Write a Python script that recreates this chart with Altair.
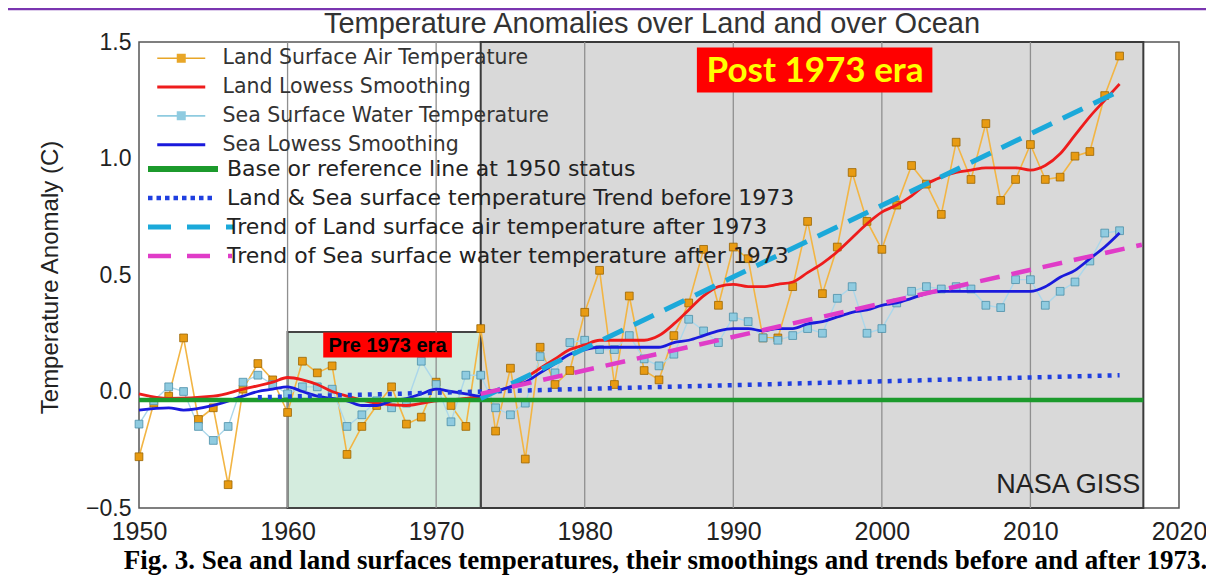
import altair as alt
import pandas as pd

# ---------------- data ----------------
years = list(range(1950, 2017))
land_temp = [-0.28, -0.05, -0.02, 0.23, -0.12, -0.07, -0.40, 0.01, 0.12, 0.05,
             -0.09, 0.13, 0.08, 0.11, -0.27, -0.15, -0.06, 0.02, -0.14, -0.11,
             0.04, -0.06, -0.15, 0.27, -0.17, 0.10, -0.29, 0.19, 0.03, 0.09,
             0.34, 0.52, 0.03, 0.41, 0.09, 0.05, 0.24, 0.38, 0.61, 0.37,
             0.62, 0.57, 0.23, 0.23, 0.45, 0.73, 0.42, 0.62, 0.94, 0.73,
             0.61, 0.80, 0.97, 0.89, 0.76, 1.07, 0.91, 1.15, 0.82, 0.91,
             1.06, 0.91, 0.92, 1.01, 1.03, 1.27, 1.44]
sea_temp = [-0.14, -0.04, 0.02, 0.00, -0.15, -0.21, -0.15, 0.04, 0.07, 0.03,
            -0.01, 0.02, 0.02, 0.01, -0.15, -0.10, -0.04, -0.07, -0.05, 0.13,
            0.03, -0.13, 0.07, 0.07, -0.07, -0.10, -0.05, 0.15, 0.08, 0.21,
            0.22, 0.18, 0.18, 0.24, 0.14, 0.11, 0.16, 0.31, 0.26, 0.21,
            0.32, 0.30, 0.23, 0.22, 0.24, 0.27, 0.25, 0.40, 0.45, 0.25,
            0.27, 0.38, 0.43, 0.45, 0.44, 0.45, 0.44, 0.37, 0.36, 0.48,
            0.48, 0.37, 0.43, 0.47, 0.56, 0.68, 0.69]

land_lowess_years = [1950, 1952, 1955, 1957, 1959, 1960, 1961, 1962, 1963, 1964,
                     1966, 1968, 1970, 1972, 1973, 1974, 1975, 1977, 1978, 1979,
                     1980, 1981, 1982, 1984, 1985, 1986, 1987, 1988, 1989, 1990,
                     1991, 1992, 1993, 1994, 1995, 1996, 1997, 1998, 1999, 2000,
                     2001, 2002, 2003, 2004, 2005, 2006, 2007, 2008, 2009, 2010,
                     2011, 2012, 2013, 2014, 2015, 2016]
land_lowess = [-0.01, -0.03, -0.02, 0.01, 0.04, 0.06, 0.05, 0.03, 0.00, -0.02,
               -0.05, -0.06, -0.04, -0.03, -0.02, 0.00, 0.02, 0.10, 0.14, 0.18,
               0.20, 0.22, 0.22, 0.22, 0.24, 0.29, 0.35, 0.41, 0.45, 0.46,
               0.45, 0.45, 0.46, 0.47, 0.51, 0.55, 0.60, 0.66, 0.72, 0.77,
               0.80, 0.84, 0.89, 0.92, 0.94, 0.95, 0.96, 0.96, 0.96, 0.95,
               0.97, 1.02, 1.10, 1.18, 1.25, 1.32]

sea_lowess_years = [1950, 1952, 1953, 1955, 1957, 1958, 1959, 1960, 1961, 1962,
                    1963, 1964, 1965, 1966, 1967, 1968, 1969, 1970, 1971, 1972,
                    1973, 1974, 1975, 1976, 1977, 1978, 1979, 1980, 1981, 1985,
                    1986, 1987, 1988, 1989, 1990, 1991, 1992, 1993, 1994, 1995,
                    1996, 1997, 1998, 1999, 2000, 2001, 2002, 2003, 2004, 2010,
                    2011, 2012, 2013, 2014, 2015, 2016]
sea_lowess = [-0.08, -0.07, -0.08, -0.06, -0.02, 0.00, 0.01, 0.02, 0.00, -0.02,
              -0.03, -0.04, -0.06, -0.06, -0.04, -0.03, -0.01, 0.01, 0.00, -0.01,
              -0.02, 0.00, 0.02, 0.04, 0.08, 0.12, 0.16, 0.18, 0.19, 0.19,
              0.21, 0.22, 0.24, 0.26, 0.27, 0.27, 0.26, 0.27, 0.27, 0.29,
              0.30, 0.32, 0.34, 0.35, 0.37, 0.38, 0.40, 0.42, 0.43, 0.43,
              0.45, 0.49, 0.52, 0.57, 0.62, 0.68]

base_years = [1950, 2017.6]
base_vals = [-0.037, -0.037]
pre_trend_years = [1958, 2016]
pre_trend_vals = [-0.025, 0.07]
land_trend_years = [1973, 2016]
land_trend_vals = [-0.03, 1.29]
sea_trend_years = [1973, 2017.5]
sea_trend_vals = [-0.01, 0.63]

decades = [1960, 1970, 1980, 1990, 2000, 2010]
x_ticks = [1950, 1960, 1970, 1980, 1990, 2000, 2010, 2020]
y_ticks = [-0.5, 0.0, 0.5, 1.0, 1.5]

# era shading (years / anomaly values)
post_era = dict(x=1973, x2=2017.6, y=-0.5, y2=1.5)
pre_era = dict(x=1960, x2=1973, y=-0.5, y2=0.255)

legend1_labels = ["Land Surface Air Temperature", "Land Lowess Smoothing",
                  "Sea Surface Water Temperature", "Sea Lowess Smoothing"]
legend2_labels = ["Base or reference line at 1950 status",
                  "Land & Sea surface temperature Trend before 1973",
                  "Trend of Land surface air temperature after 1973",
                  "Trend of Sea surface water temperature after 1973"]

title_text = "Temperature Anomalies over Land and over Ocean"
caption = ("Fig. 3. Sea and land surfaces temperatures, their smoothings and "
           "trends before and after 1973.")
y_title = "Temperature Anomaly (C)"

# ---------------- tables ----------------
frame_df = pd.DataFrame({"t": [title_text]})
land_df = pd.DataFrame({"year": years, "value": land_temp})
sea_df = pd.DataFrame({"year": years, "value": sea_temp})
land_low_df = pd.DataFrame({"year": land_lowess_years, "value": land_lowess})
sea_low_df = pd.DataFrame({"year": sea_lowess_years, "value": sea_lowess})
base_df = pd.DataFrame({"year": base_years, "value": base_vals})
pre_df = pd.DataFrame({"year": pre_trend_years, "value": pre_trend_vals})
ltr_df = pd.DataFrame({"year": land_trend_years, "value": land_trend_vals})
str_df = pd.DataFrame({"year": sea_trend_years, "value": sea_trend_vals})
dec_df = pd.DataFrame({"year": decades})
post_df = pd.DataFrame([post_era])
pre_box_df = pd.DataFrame([pre_era])

post_lab_df = pd.DataFrame([dict(x=1987.55, x2=2003.4, y=1.283, y2=1.476,
                                 tx=1995.5, ty=1.375, t="Post 1973 era")])
pre_lab_df = pd.DataFrame([dict(x=1962.4, x2=1971.06, y=0.146, y2=0.253,
                                tx=1966.73, ty=0.197, t="Pre 1973  era")])
nasa_df = pd.DataFrame([dict(year=2017.4, value=-0.40, t="NASA GISS")])

# legend carriers (kept outside the visible domain, clipped)
leg1_df = pd.DataFrame({"s1": legend1_labels, "year": 1950.0, "value": -9.0})
leg2_df = pd.DataFrame({"s2": legend2_labels, "year": 1950.0, "value": -9.0})

# ---------------- scales / axes ----------------
xscale = alt.Scale(domain=[1950, 2020], nice=False, zero=False)
yscale = alt.Scale(domain=[-0.5, 1.5], nice=False, zero=False)
xaxis = alt.Axis(values=x_ticks, format="d", grid=False, domain=False, ticks=False,
                 labelFlush=False, labelOverlap=False,
                 labelFontSize=25, labelFont="Liberation Sans", labelColor="#222",
                 labelPadding=11, title=caption, titleFont="Liberation Serif",
                 titleFontSize=27, titleFontWeight="bold", titleColor="#000",
                 titleX=526, titleY=60, titleBaseline="alphabetic", titleAlign="center")
yaxis = alt.Axis(values=y_ticks, format=".1f", grid=False, domain=False, ticks=False,
                 labelFontSize=23, labelFont="Liberation Sans", labelColor="#222",
                 labelPadding=8, title=y_title, titleFont="Liberation Sans",
                 titleFontSize=24, titleFontWeight="normal", titleColor="#222",
                 titleX=-82, titleY=235, titleAngle=-90, titleAlign="center",
                 titleBaseline="alphabetic")


def X(f="year"):
    return alt.X(f"{f}:Q", scale=xscale, axis=xaxis)


def Y(f="value"):
    return alt.Y(f"{f}:Q", scale=yscale, axis=yaxis)


layers = []

# shaded eras
layers.append(alt.Chart(post_df).mark_rect(fill="#d9d9d9", stroke="#3a3a3a", strokeWidth=2)
              .encode(x=X("x"), x2="x2", y=Y("y"), y2="y2"))
layers.append(alt.Chart(pre_box_df).mark_rect(fill="#d4ecde", stroke="#444", strokeWidth=2)
              .encode(x=X("x"), x2="x2", y=Y("y"), y2="y2"))
# decade grid
layers.append(alt.Chart(dec_df).mark_rule(color="#8f8f8f", strokeWidth=1.3)
              .encode(x=X("year")))

# raw series
layers.append(alt.Chart(land_df).mark_line(color="#f2b544", strokeWidth=1.6)
              .encode(x=X(), y=Y()))
layers.append(alt.Chart(sea_df).mark_line(color="#acd7ea", strokeWidth=1.4)
              .encode(x=X(), y=Y()))
layers.append(alt.Chart(land_df).mark_point(shape="square", filled=True, fill="#e89b12",
                                            stroke="#9a6400", strokeWidth=0.8, size=60, opacity=1)
              .encode(x=X(), y=Y()))
layers.append(alt.Chart(sea_df).mark_point(shape="square", filled=True, fill="#8fcbe0",
                                           stroke="#4b8fa8", strokeWidth=0.8, size=60, opacity=1)
              .encode(x=X(), y=Y()))

# smoothings
layers.append(alt.Chart(land_low_df).mark_line(color="#ee1c1c", strokeWidth=2.8, interpolate="monotone")
              .encode(x=X(), y=Y()))
layers.append(alt.Chart(sea_low_df).mark_line(color="#1a1adc", strokeWidth=2.8, interpolate="monotone")
              .encode(x=X(), y=Y()))

# base and trend lines
layers.append(alt.Chart(base_df).mark_line(color="#1c9a2c", strokeWidth=4.5)
              .encode(x=X(), y=Y()))
layers.append(alt.Chart(pre_df).mark_line(color="#1f3fe0", strokeWidth=4.5, strokeDash=[4, 6])
              .encode(x=X(), y=Y()))
layers.append(alt.Chart(ltr_df).mark_line(color="#1ba9da", strokeWidth=5, strokeDash=[22, 12])
              .encode(x=X(), y=Y()))
layers.append(alt.Chart(str_df).mark_line(color="#e03cc8", strokeWidth=4.5, strokeDash=[20, 12])
              .encode(x=X(), y=Y()))

# era labels
layers.append(alt.Chart(post_lab_df).mark_rect(fill="#ff0000")
              .encode(x=X("x"), x2="x2", y=Y("y"), y2="y2"))
layers.append(alt.Chart(post_lab_df).mark_text(font="Lato", fontWeight="bold", fontSize=35,
                                               color="#ffff00", align="center", baseline="middle")
              .encode(x=X("tx"), y=Y("ty"), text="t:N"))
layers.append(alt.Chart(pre_lab_df).mark_rect(fill="#ff0000")
              .encode(x=X("x"), x2="x2", y=Y("y"), y2="y2"))
layers.append(alt.Chart(pre_lab_df).mark_text(font="Liberation Sans", fontWeight="bold", fontSize=20,
                                              color="#000", align="center", baseline="middle")
              .encode(x=X("tx"), y=Y("ty"), text="t:N"))
layers.append(alt.Chart(nasa_df).mark_text(font="Liberation Sans", fontSize=27, color="#222",
                                           align="right", baseline="middle")
              .encode(x=X(), y=Y(), text="t:N"))

# legend symbol paths (unit = 10 px)
p_raw = "M-1,-0.08H3.8V0.08H-1Z M0.95,-0.45H1.85V0.45H0.95Z"
p_low = "M-1,-0.15H3.8V0.15H-1Z"
p_base = "M-1,-0.3H6V0.3H-1Z"
p_dot = " ".join(f"M{a:.2f},-0.22H{a + 0.45:.2f}V0.22H{a:.2f}Z"
                 for a in [-1, -0.15, 0.7, 1.55, 2.4, 3.25, 4.1, 4.95])
p_cyan = "M-1,-0.25H1.3V0.25H-1Z M2.9,-0.25H5.2V0.25H2.9Z M6.8,-0.25H7.6V0.25H6.8Z"
p_mag = "M-1,-0.22H1.3V0.22H-1Z M2.9,-0.22H5.2V0.22H2.9Z M7.0,-0.22H7.4V0.22H7.0Z"

leg1 = alt.Legend(title=None, orient="none", legendX=13, legendY=1, padding=5,
                  symbolSize=400, symbolStrokeWidth=0, labelOffset=45, rowPadding=7.8,
                  labelFont="DejaVu Sans", labelFontSize=20.5, labelColor="#333",
                  labelLimit=800)
leg2 = alt.Legend(title=None, orient="none", legendX=3, legendY=111, padding=5,
                  symbolSize=400, symbolStrokeWidth=0, labelOffset=58, rowPadding=7,
                  labelFont="DejaVu Sans", labelFontSize=22, labelColor="#222",
                  labelLimit=900)

layers.append(alt.Chart(leg1_df).mark_point(filled=True, opacity=1, clip=True)
              .encode(x=X(), y=Y(),
                      color=alt.Color("s1:N", scale=alt.Scale(domain=legend1_labels,
                                      range=["#e8a628", "#ee1c1c", "#8fcbe0", "#1a1adc"]), legend=leg1),
                      shape=alt.Shape("s1:N", scale=alt.Scale(domain=legend1_labels,
                                      range=[p_raw, p_low, p_raw, p_low]), legend=leg1)))
layers.append(alt.Chart(leg2_df).mark_point(filled=True, opacity=1, clip=True)
              .encode(x=X(), y=Y(),
                      color=alt.Color("s2:N", scale=alt.Scale(domain=legend2_labels,
                                      range=["#1c9a2c", "#1f3fe0", "#1ba9da", "#e03cc8"]), legend=leg2),
                      shape=alt.Shape("s2:N", scale=alt.Scale(domain=legend2_labels,
                                      range=[p_base, p_dot, p_cyan, p_mag]), legend=leg2)))

# chart title (text) and page frame (purple)
layers.append(alt.Chart(frame_df).mark_text(font="Liberation Sans", fontSize=29, color="#333",
                                            align="center", baseline="alphabetic")
              .encode(x=alt.value(513), y=alt.value(-9), text="t:N"))
layers.append(alt.Chart(frame_df).mark_rule(color="#7a35b0", strokeWidth=2.5)
              .encode(x=alt.value(-135), y=alt.value(-33), y2=alt.value(560)))
layers.append(alt.Chart(frame_df).mark_rule(color="#7a35b0", strokeWidth=2.5)
              .encode(x=alt.value(-135), x2=alt.value(1100), y=alt.value(-33)))

chart = (alt.layer(*layers)
         .resolve_scale(color="independent", shape="independent")
         .properties(width=1040, height=466,
                     autosize=alt.AutoSizeParams(type="none"),
                     padding={"left": 131, "top": 34, "right": 27, "bottom": 68})
         .configure_view(stroke="#555", strokeWidth=1.5))

chart.save("out.html", embed_options={"renderer": "svg", "actions": False})
